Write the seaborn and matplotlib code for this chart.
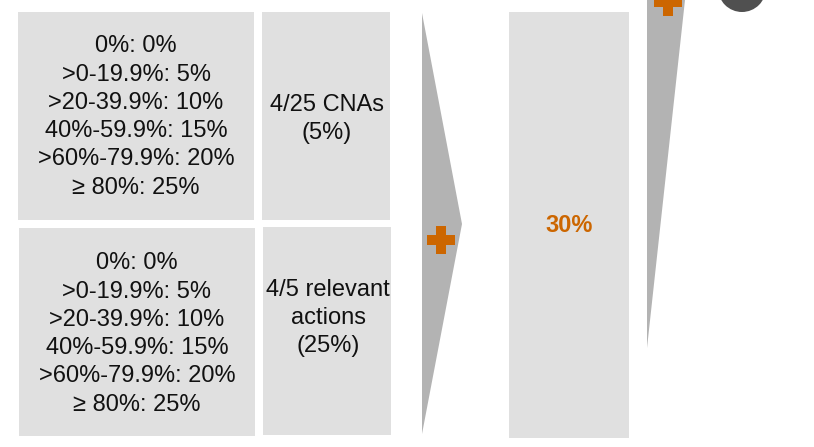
import matplotlib
matplotlib.use("Agg")
import matplotlib.pyplot as plt
from matplotlib.patches import Rectangle, Polygon, Circle
import seaborn as sns

# ---- content ----
scale_lines = ["0%: 0%", ">0-19.9%: 5%", ">20-39.9%: 10%", "40%-59.9%: 15%",
               ">60%-79.9%: 20%", "\u2265 80%: 25%"]
results_top = "4/25 CNAs\n(5%)"
results_bottom = "4/5 relevant\nactions\n(25%)"
total_label = "30%"

sns.set_theme(style="white")
plt.rcParams['font.family'] = ['Liberation Sans', 'DejaVu Sans']

LIGHT = "#E0E0E0"
MID = "#B3B3B3"
ORANGE = "#CC6600"
DARK = "#505050"
TXT = "#111111"

fig = plt.figure(figsize=(8.14, 4.47), dpi=100)
ax = fig.add_axes([0, 0, 1, 1])
ax.set_xlim(0, 814)
ax.set_ylim(447, 0)
ax.axis("off")

# boxes (x0, y0, x1, y1)
boxes = [(18, 12, 254, 220), (262, 12, 390, 220),
         (19, 228, 255, 436), (263, 227, 391, 435),
         (509, 12, 629, 438)]
for x0, y0, x1, y1 in boxes:
    ax.add_patch(Rectangle((x0, y0), x1 - x0, y1 - y0, facecolor=LIGHT, edgecolor="none"))

scale_text = "\n".join(scale_lines)
fs = 17
ls = 1.37
ax.text(136, 117, scale_text, ha="center", va="center", fontsize=fs, color=TXT, linespacing=ls)
ax.text(137, 334, scale_text, ha="center", va="center", fontsize=fs, color=TXT, linespacing=ls)
ax.text(327, 119, results_top, ha="center", va="center", fontsize=fs, color=TXT, linespacing=ls)
ax.text(328, 318, results_bottom, ha="center", va="center", fontsize=fs, color=TXT, linespacing=ls)

# chevron
ax.add_patch(Polygon([(422, 13), (462, 224), (422, 434)], closed=True, facecolor=MID, edgecolor="none"))
# right wedge
ax.add_patch(Polygon([(647, 0), (685, 0), (647, 348)], closed=True, facecolor=MID, edgecolor="none"))
# dark circle
ax.add_patch(Circle((742, -12), 24, facecolor=DARK, edgecolor="none"))

# plus signs
ax.plot([441, 668], [240, 2], linestyle="none", marker="P", markersize=20,
        color=ORANGE, markeredgewidth=0)

ax.text(569, 226, total_label, ha="center", va="center", fontsize=17,
        fontweight="bold", color=ORANGE)

fig.savefig("out.png", dpi=100)
